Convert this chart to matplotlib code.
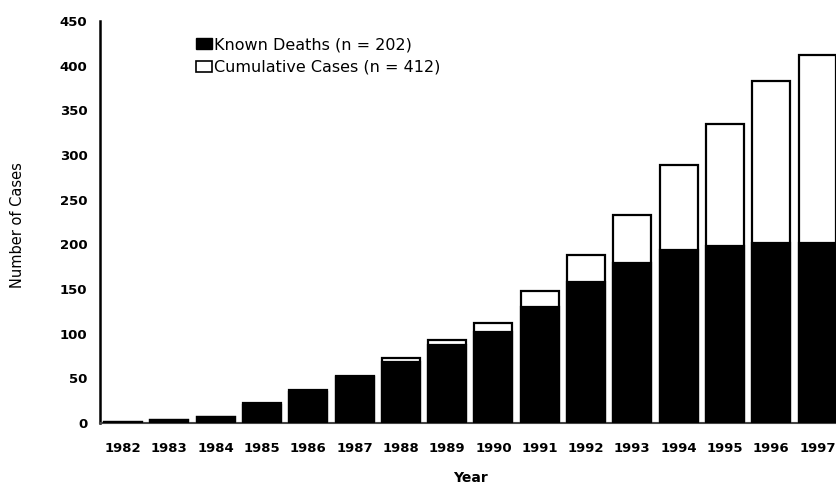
import matplotlib
matplotlib.use("Agg")
import matplotlib.pyplot as plt
from matplotlib.patches import Patch

# data
years = ['1982', '1983', '1984', '1985', '1986', '1987', '1988', '1989',
         '1990', '1991', '1992', '1993', '1994', '1995', '1996', '1997']
cumulative = [1, 3, 7, 22, 37, 53, 73, 93, 112, 148, 188, 233, 289, 335, 383, 412]
deaths = [1, 3, 7, 20, 35, 52, 68, 87, 102, 130, 158, 179, 194, 198, 201, 202]
y_ticks = [0, 50, 100, 150, 200, 250, 300, 350, 400, 450]

plt.rcParams['font.family'] = ['DejaVu Sans']

fig = plt.figure(figsize=(8.36, 4.87), dpi=100)
ax = fig.add_axes([100 / 836, 1 - 423 / 487, 1 - 100 / 836, (423 - 21) / 487])

x = list(range(len(years)))
w = 0.82
ax.bar(x, cumulative, width=w, color='white', edgecolor='black', linewidth=1.6, zorder=2)
ax.bar(x, deaths, width=w, color='black', edgecolor='black', linewidth=1.6, zorder=3)

ax.set_xlim(-0.5, 15.4)
ax.set_ylim(0, 450)
ax.set_yticks(y_ticks)
ax.set_yticklabels([str(v) for v in y_ticks], fontsize=9.5, fontweight='bold')
ax.set_xticks(x)
ax.set_xticklabels(years, fontsize=9.5, fontweight='bold')
ax.tick_params(axis='both', length=0)
ax.tick_params(axis='x', pad=14)
ax.tick_params(axis='y', pad=9)

for s in ['top', 'right']:
    ax.spines[s].set_visible(False)
ax.spines['left'].set_linewidth(1.8)
ax.spines['bottom'].set_linewidth(1.5)
ax.spines['bottom'].set_color('#444444')

fig.text(18 / 836, 1 - 225 / 487, 'Number of Cases', rotation=90,
         ha='center', va='center', fontsize=10.5)
fig.text(470 / 836, 1 - 478 / 487, 'Year', ha='center', va='center',
         fontsize=10, fontweight='bold')

handles = [Patch(facecolor='black', edgecolor='black'),
           Patch(facecolor='white', edgecolor='black', linewidth=1.2)]
ax.legend(handles, ['Known Deaths (n = 202)', 'Cumulative Cases (n = 412)'],
          loc='upper left', bbox_to_anchor=(196 / 836, 1 - 37 / 487),
          bbox_transform=fig.transFigure, frameon=False, fontsize=11.5,
          borderpad=0, borderaxespad=0, handlelength=1.0, handleheight=0.75,
          handletextpad=0.15, labelspacing=0.5)

fig.savefig('out.png', dpi=100)
